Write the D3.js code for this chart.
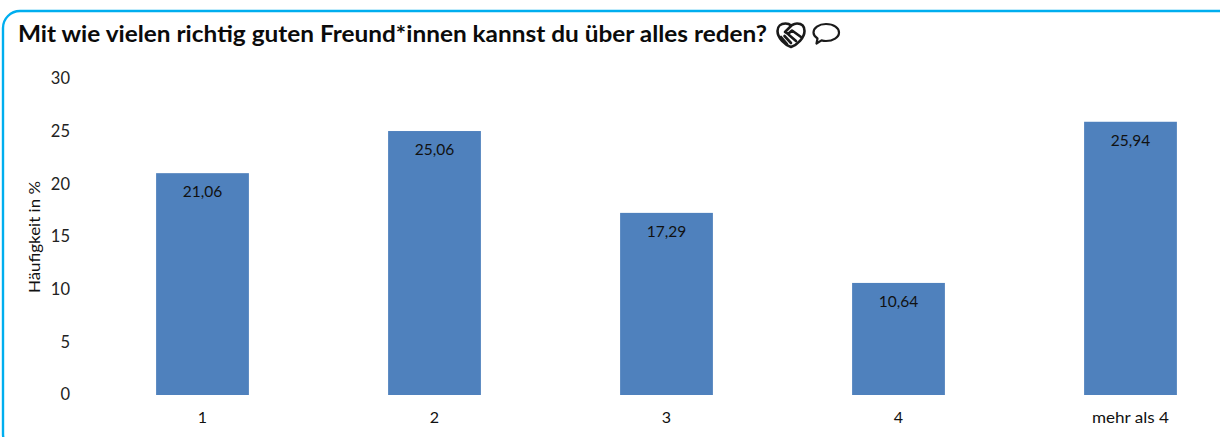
<!DOCTYPE html>
<html><head><meta charset="utf-8">
<script src="https://cdn.jsdelivr.net/npm/d3@7/dist/d3.min.js"></script>
<style>
html,body{margin:0;padding:0;background:#fff;overflow:hidden}
svg{display:block}
text{font-family:Lato,"Open Sans",sans-serif;fill:#111}
</style></head><body>
<svg id="c" width="1220" height="437"></svg>
<script>
const categories = ["1","2","3","4","mehr als 4"];
const values = [21.06,25.06,17.29,10.64,25.94];
const valueLabels = ["21,06","25,06","17,29","10,64","25,94"];
const yTicks = [0,5,10,15,20,25,30];
const titleText = "Mit wie vielen richtig guten Freund*innen kannst du über alles reden?";
const yTitle = "Häufigkeit in %";

const svg = d3.select("#c");
svg.append("rect").attr("x",3).attr("y",11).attr("width",1240).attr("height",440).attr("rx",17)
  .attr("fill","#fff").attr("stroke","#00aeef").attr("stroke-width",2.4);

svg.append("text").attr("x",18).attr("y",42).attr("font-size",23.5).attr("font-weight",700)
  .attr("textLength",749).attr("lengthAdjust","spacingAndGlyphs").style("fill","#0b0b0b").text(titleText);

const x = d3.scaleBand().domain(categories).range([86.5,1246.5]).paddingInner(0.6).paddingOuter(0.3);
const y = d3.scaleLinear().domain([0,30]).range([395,79]);

const yAxis = d3.axisLeft(y).tickValues(yTicks).tickSize(0).tickPadding(0);
const gy = svg.append("g").attr("transform","translate(70,-1)").call(yAxis);
gy.select(".domain").remove();
gy.selectAll("text").attr("font-size",16.5).style("font-family","Lato,sans-serif").style("fill","#222").attr("dy","0.36em");

const xAxis = d3.axisBottom(x).tickSize(0).tickPadding(0);
const gx = svg.append("g").attr("transform","translate(0,412)").call(xAxis);
gx.select(".domain").remove();
gx.selectAll("text").attr("font-size",16).style("font-family","Lato,sans-serif").style("fill","#111").attr("dy","0.71em");
gx.selectAll("text").filter(d=>d==="mehr als 4").attr("textLength",77).attr("lengthAdjust","spacingAndGlyphs");

svg.append("text").attr("transform","translate(40,237) rotate(-90)").attr("text-anchor","middle")
  .attr("font-size",16).attr("textLength",112).attr("lengthAdjust","spacingAndGlyphs").text(yTitle);

svg.selectAll("rect.bar").data(values).join("rect").attr("class","bar")
  .attr("x",(d,i)=>x(categories[i])).attr("width",x.bandwidth())
  .attr("y",d=>y(d)).attr("height",d=>y(0)-y(d)).attr("fill","#4f81bd");

svg.selectAll("text.v").data(values).join("text").attr("class","v")
  .attr("x",(d,i)=>x(categories[i])+x.bandwidth()/2).attr("y",d=>y(d)+24)
  .attr("text-anchor","middle").attr("font-size",15.5).text((d,i)=>valueLabels[i]);

// Title icons
const heart = svg.append("g").attr("transform","translate(777,23)").attr("fill","none").attr("stroke","#1a1a1a").attr("stroke-width",2.6).attr("stroke-linecap","round").attr("stroke-linejoin","round");
heart.append("path").attr("d","M14 24 C8 22 0.5 15 0.5 8 C0.5 3 4 0.5 8.5 0.5 C11 0.5 13 1.5 14 2.5 C16 1.5 18 0.5 20 0.5 C24.5 0.5 27.5 3 27.5 8 C27.5 15 20 22 14 24Z");
heart.append("path").attr("d","M14 3 L8 9 L11 11 L15 7.5 L24 14");
heart.append("path").attr("d","M4 14 L10 21 M7.5 13 L14 20 M12 12 L19 18");
svg.append("path").attr("fill","none").attr("stroke","#1a1a1a").attr("stroke-width",2.2).attr("stroke-linejoin","round")
  .attr("d","M826 24 C834 24 839 28 839 32.5 C839 37.5 833 41 826 41 C824.5 41 823 40.8 821.5 40.4 L816.5 43.5 L817.5 38.5 C815 36.8 813.5 34.8 813.5 32.5 C813.5 28 818.5 24 826 24Z");
</script></body></html>
